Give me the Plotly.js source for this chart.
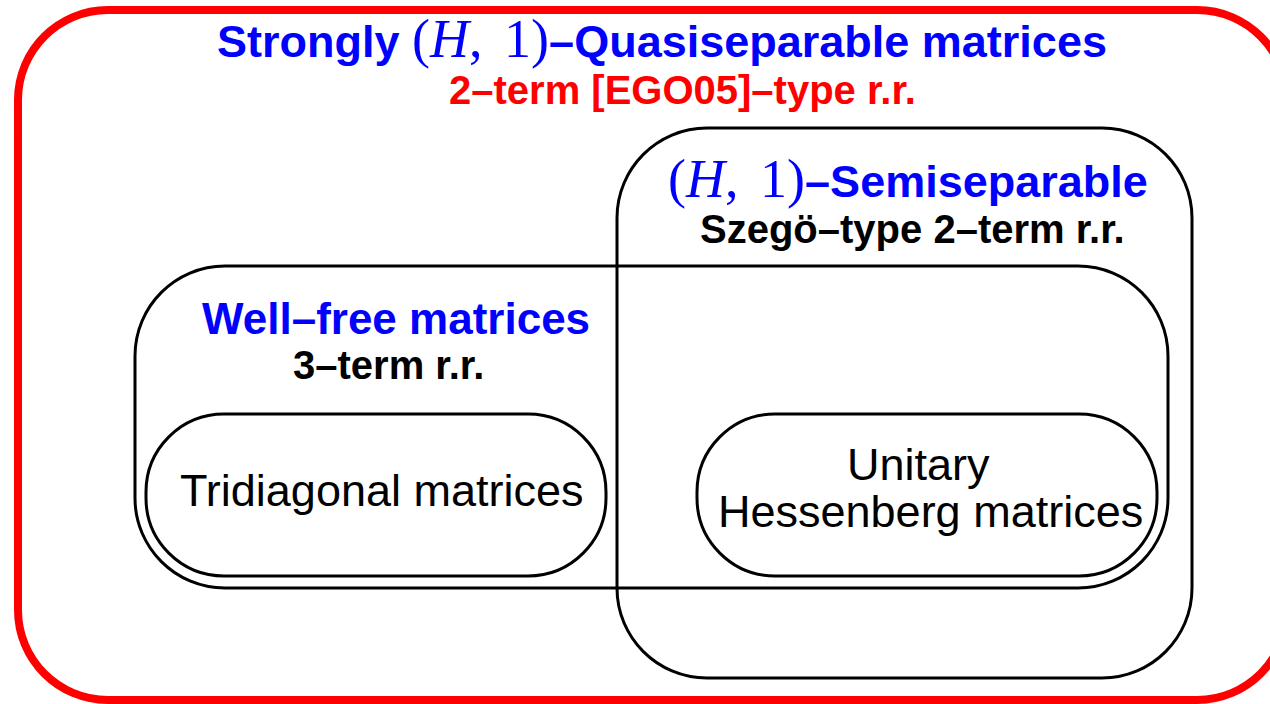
<!DOCTYPE html>
<html>
<head>
<meta charset="utf-8">
<script src="https://cdn.plot.ly/plotly-3.0.1.min.js"></script>
<style>html,body{margin:0;padding:0;background:#fff;}</style>
</head>
<body>
<div id="chart" style="width:1270px;height:704px;"></div>
<script>
// Region (set) boxes of the diagram
const boxNames  = ['Strongly (H,1)-Quasiseparable', '(H,1)-Semiseparable', 'Well-free', 'Tridiagonal', 'Unitary Hessenberg'];
const boxX0     = [18, 617, 135, 146, 697];
const boxX1     = [1287, 1192, 1168, 606, 1157];
const boxY0     = [10, 128, 266, 414, 414];
const boxY1     = [700, 678, 588, 576, 576];
const boxRadius = [90, 90, 90, 78, 78];
const boxColor  = ['#ff0000', '#000000', '#000000', '#000000', '#000000'];
const boxWidth  = [8, 3, 3, 3, 3];

// Labels
const MATH = "<span style='font-family:\"Liberation Serif\",serif;font-weight:normal;font-size:54px'>(<i>H</i>,\u2009\u20091)</span>";
const labelText = [
  "<b>Strongly </b>" + MATH + "<b>–Quasiseparable matrices</b>",
  "<b>2–term [EGO05]–type r.r.</b>",
  MATH + "<b>–Semiseparable</b>",
  "<b>Szegö–type 2–term r.r.</b>",
  "<b>Well–free matrices</b>",
  "<b>3–term r.r.</b>",
  "Tridiagonal matrices",
  "Unitary",
  "Hessenberg matrices"
];
const labelX     = [662, 682, 908, 912, 396, 388, 381, 918, 930];
const labelY     = [39, 90, 179, 229, 318, 365, 490, 464, 511];
const labelSize  = [45, 40, 45, 40, 44, 40, 45, 45, 45];
const labelColor = ['#0000ff', '#ff0000', '#0000ff', '#000000', '#0000ff', '#000000', '#000000', '#000000', '#000000'];

function roundedRectPath(x0, y0, x1, y1, r) {
  const k = 0.5523 * r;
  return 'M' + (x0 + r) + ',' + y0 +
    ' L' + (x1 - r) + ',' + y0 +
    ' C' + (x1 - r + k) + ',' + y0 + ' ' + x1 + ',' + (y0 + r - k) + ' ' + x1 + ',' + (y0 + r) +
    ' L' + x1 + ',' + (y1 - r) +
    ' C' + x1 + ',' + (y1 - r + k) + ' ' + (x1 - r + k) + ',' + y1 + ' ' + (x1 - r) + ',' + y1 +
    ' L' + (x0 + r) + ',' + y1 +
    ' C' + (x0 + r - k) + ',' + y1 + ' ' + x0 + ',' + (y1 - r + k) + ' ' + x0 + ',' + (y1 - r) +
    ' L' + x0 + ',' + (y0 + r) +
    ' C' + x0 + ',' + (y0 + r - k) + ' ' + (x0 + r - k) + ',' + y0 + ' ' + (x0 + r) + ',' + y0 + ' Z';
}

const shapes = boxNames.map((n, i) => ({
  type: 'path',
  xref: 'x', yref: 'y',
  path: roundedRectPath(boxX0[i], boxY0[i], boxX1[i], boxY1[i], boxRadius[i]),
  line: {color: boxColor[i], width: boxWidth[i]},
  fillcolor: 'rgba(0,0,0,0)',
  layer: 'above'
}));

const annotations = labelText.map((t, i) => ({
  x: labelX[i], y: labelY[i], xref: 'x', yref: 'y',
  text: t, showarrow: false, xanchor: 'center', yanchor: 'middle',
  font: {family: 'Liberation Sans, Arial, sans-serif', size: labelSize[i], color: labelColor[i]}
}));

const layout = {
  width: 1270, height: 704,
  margin: {l: 0, r: 0, t: 0, b: 0, pad: 0},
  paper_bgcolor: '#ffffff', plot_bgcolor: '#ffffff',
  showlegend: false,
  xaxis: {range: [0, 1270], visible: false, fixedrange: true},
  yaxis: {range: [704, 0], visible: false, fixedrange: true},
  shapes: shapes,
  annotations: annotations
};

Plotly.newPlot('chart', [{x: [], y: [], type: 'scatter', mode: 'markers', hoverinfo: 'skip'}], layout, {staticPlot: true, displayModeBar: false});
</script>
</body>
</html>
